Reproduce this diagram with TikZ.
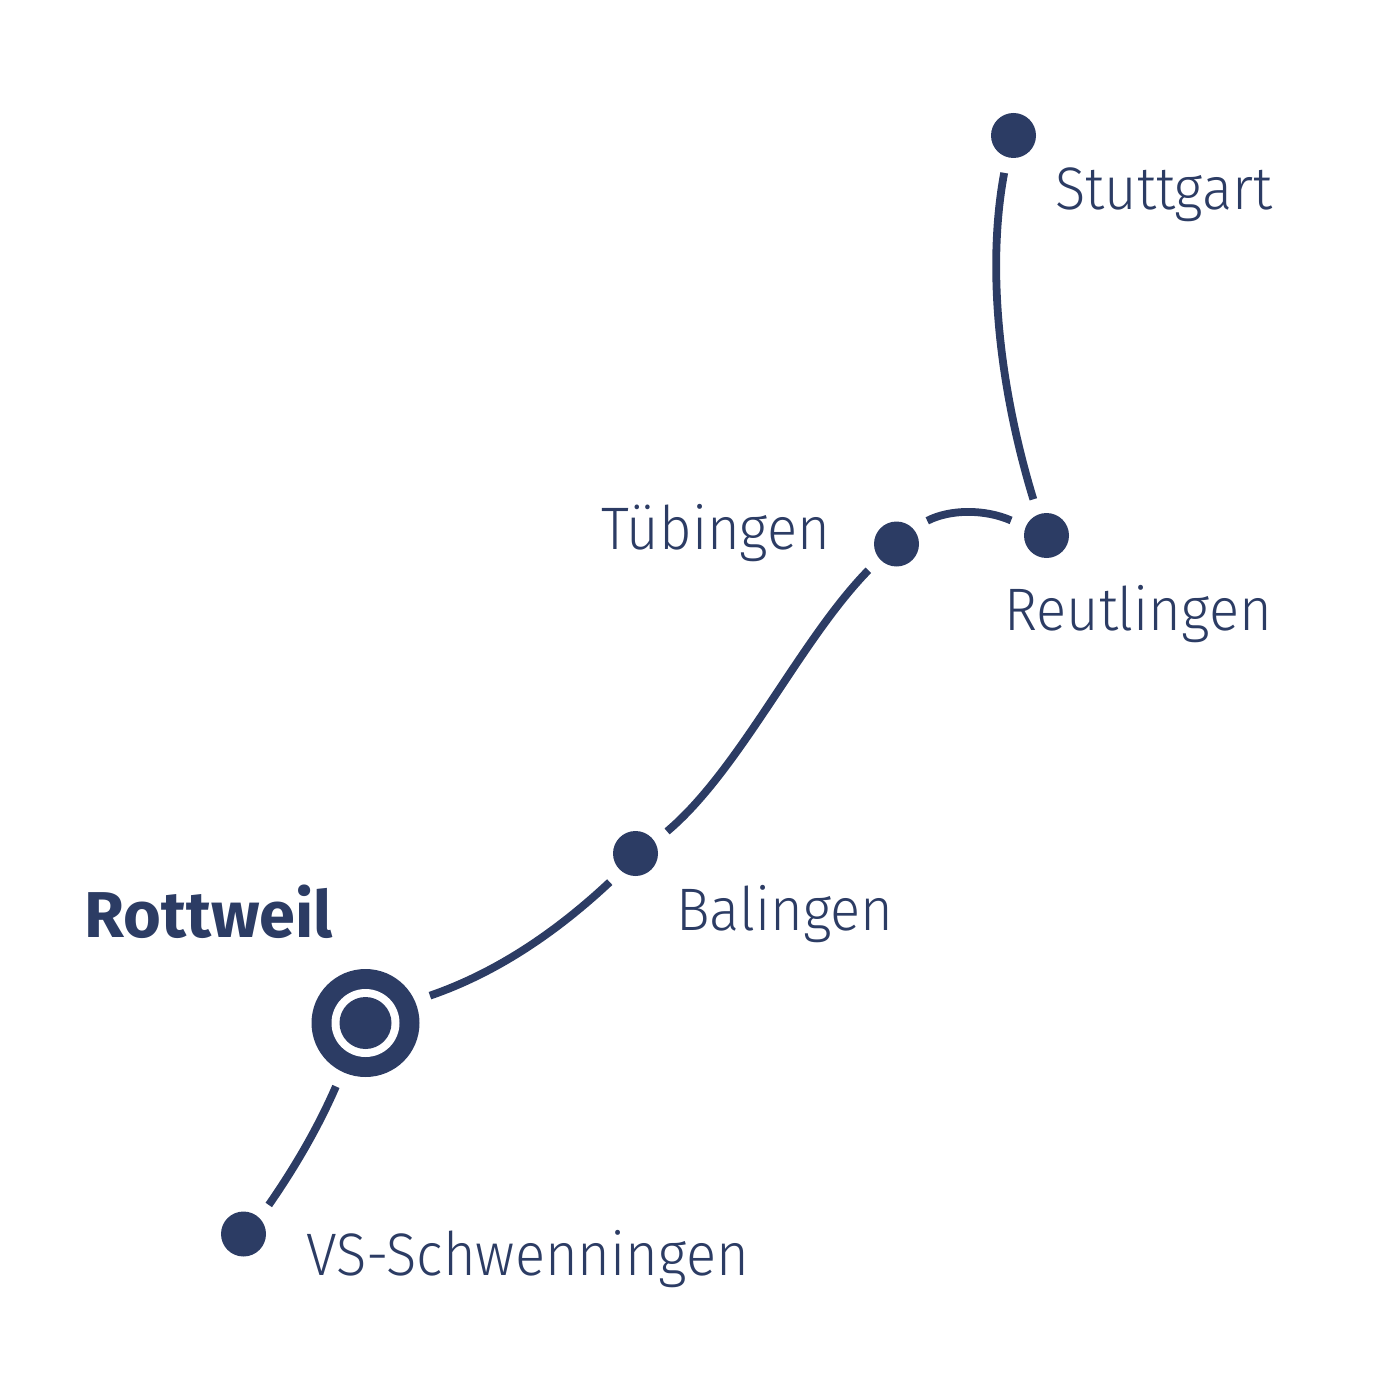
\documentclass[tikz,border=0pt]{standalone}
\usepackage{fontspec}
\setmainfont{Fira Sans Light}[FakeStretch=0.935,BoldFont={Fira Sans Bold},BoldFeatures={FakeStretch=1.0}]
\definecolor{routeblue}{HTML}{2C3C64}
\tikzset{
  stop/.style={circle,fill=routeblue,minimum size=22.5pt,inner sep=0pt,outer sep=8pt},
  hub/.style={circle,fill=routeblue,minimum size=54pt,inner sep=0pt,outer sep=8pt},
  leg/.style={draw=routeblue,line width=3.9pt},
  place/.style={text=routeblue,font=\fontsize{30}{36}\selectfont,anchor=base west,inner sep=0pt},
  hubname/.style={place,font=\fontsize{32.4}{38}\selectfont\bfseries}
}
\begin{document}
\begin{tikzpicture}[x=0.5pt,y=-0.5pt]
  \useasboundingbox (0,0) rectangle (1400,1400);
  \node[stop] (stuttgart) at (1013.5,135.5) {};
  \node[stop] (reutlingen) at (1046.5,535.5) {};
  \node[stop] (tuebingen) at (896.5,544) {};
  \node[stop] (balingen) at (635.5,853.5) {};
  \node[hub] (rottweil) at (365.5,1023) {};
  \node[stop] (schwenningen) at (243.5,1234) {};
  % white ring and core of the main station
  \node[circle,fill=white,minimum size=34pt,inner sep=0pt] (ring) at (rottweil.center) {};
  \node[circle,fill=routeblue,minimum size=26pt,inner sep=0pt] (core) at (rottweil.center) {};
  % legs leave each stop at a fixed angle, clear of the dot
  \draw[leg] (stuttgart.-104.6) .. controls (986,270) and (1000,390) .. (reutlingen.110.3);
  \draw[leg] (tuebingen.37) .. controls (950,509) and (985,509) .. (reutlingen.157);
  \draw[leg] (tuebingen.-137.6) .. controls (800,640) and (740,770) .. (balingen.35.5);
  \draw[leg] (balingen.-132.8) .. controls (550,938) and (490,975) .. (rottweil.23);
  \draw[leg] (rottweil.-115.8) .. controls (317,1130) and (293,1170) .. (schwenningen.49.8);
  \node[place] (l1) at (1055,210) {Stuttgart};
  \node[place] (l2) at (1004,630) {Reutlingen};
  \node[place] (l3) at (601,549) {Tübingen};
  \node[place] (l4) at (676,930) {Balingen};
  \node[hubname] (l5) at (84,937) {Rottweil};
  \node[place] (l6) at (306,1275) {VS-Schwenningen};
\end{tikzpicture}
\end{document}
